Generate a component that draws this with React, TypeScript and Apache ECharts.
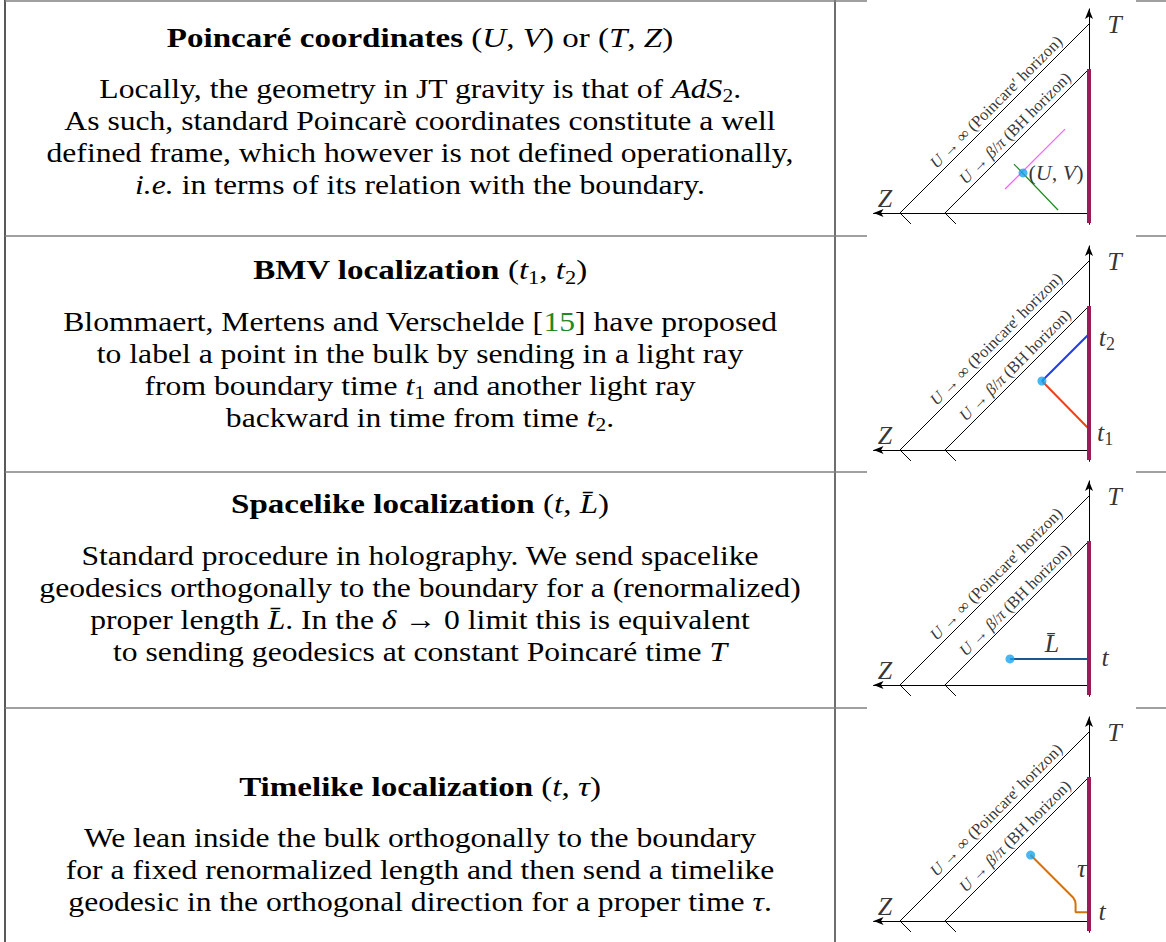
import React, { useEffect, useRef } from 'react';
import * as echarts from 'echarts';

const FONT = 'Liberation Serif';

// ---------- table layout ----------
const ROW_TOPS = [0, 236, 472, 708];
const COL_X = 835;
const LEFT_X = 5;
const TEXT_CX = 420;
const TITLE_SCALE = 1.18;
const BODY_SCALE = 1.13;
const TITLE_Y = [38, 270, 504, 787];
const LINE_Y = [
  [88, 120, 152, 184],
  [321, 353, 385, 417],
  [555, 587, 619, 651],
  [837, 869, 901],
];

// ---------- diagram frame (units of the diagram: Z to the left, T up) ----------
const AXIS_Y = [213, 450, 685, 921];
const ORIGIN_X = 1089;
const UNIT = 189;
const Z_MAX = 1.14;
const T_MAX = 1.08;
const T_MIN = -0.06;

// ---------- diagram data ----------
const poincareHorizon = [[0.942, -0.058], [1, 0], [0, 1]];
const bhHorizon = [[0.704, -0.058], [0.762, 0], [0, 0.762]];
const boundary = [[0, -0.053], [0, 0.762]];

const uvNullA = [[0.444, 0.127], [0.127, 0.444]];
const uvNullB = [[0.397, 0.259], [0.164, 0.016]];
const uvPoint = [0.349, 0.212];

const bmvPoint = [0.249, 0.365];
const bmvRayFromT1 = [[0, 0.111], [0.249, 0.365]];
const bmvRayToT2 = [[0.249, 0.365], [0, 0.614]];

const spacePoint = [0.418, 0.138];
const spaceGeodesic = [[0.418, 0.138], [0, 0.138]];

const timePoint = [0.309, 0.349];
const timeGeodesic = [[0, 0.046], [0.071, 0.046], [0.071, 0.088], [0.073, 0.105], [0.083, 0.123], [0.309, 0.349]];

// label anchors in diagram units
const labelT = [-0.135, 1.0];
const labelZ = [1.08, 0.075];
const labelPoincare = [0.4915, 0.5875];
const labelBH = [0.3915, 0.4495];
const labelT2 = [-0.094, 0.593];
const labelT1 = [-0.085, 0.09];
const labelLbar = [0.196, 0.222];
const labelTSpace = [-0.085, 0.143];
const labelTau = [0.039, 0.279];
const labelTTime = [-0.07, 0.049];

// ---------- texts ----------
type Tok = [string, string];
const titles: Tok[][] = [
  [['b', 'Poincaré coordinates'], ['r', ' ('], ['i', 'U'], ['r', ', '], ['i', 'V'], ['r', ') or ('], ['i', 'T'], ['r', ', '], ['i', 'Z'], ['r', ')']],
  [['b', 'BMV localization'], ['r', ' ('], ['i', 't'], ['s', '1'], ['r', ', '], ['i', 't'], ['s', '2'], ['r', ')']],
  [['b', 'Spacelike localization'], ['r', ' ('], ['i', 't'], ['r', ', '], ['i', 'L\u0304'], ['r', ')']],
  [['b', 'Timelike localization'], ['r', ' ('], ['i', 't'], ['r', ', '], ['i', 'τ'], ['r', ')']],
];
const bodies: Tok[][][] = [
  [
    [['r', 'Locally, the geometry in JT gravity is that of '], ['i', 'AdS'], ['s', '2'], ['r', '.']],
    [['r', 'As such, standard Poincarè coordinates constitute a well']],
    [['r', 'defined frame, which however is not defined operationally,']],
    [['i', 'i.e.'], ['r', ' in terms of its relation with the boundary.']],
  ],
  [
    [['r', 'Blommaert, Mertens and Verschelde ['], ['g', '15'], ['r', '] have proposed']],
    [['r', 'to label a point in the bulk by sending in a light ray']],
    [['r', 'from boundary time '], ['i', 't'], ['s', '1'], ['r', ' and another light ray']],
    [['r', 'backward in time from time '], ['i', 't'], ['s', '2'], ['r', '.']],
  ],
  [
    [['r', 'Standard procedure in holography. We send spacelike']],
    [['r', 'geodesics orthogonally to the boundary for a (renormalized)']],
    [['r', 'proper length '], ['i', 'L\u0304'], ['r', '. In the '], ['i', 'δ'], ['r', ' → 0 limit this is equivalent']],
    [['r', 'to sending geodesics at constant Poincaré time '], ['i', 'T']],
  ],
  [
    [['r', 'We lean inside the bulk orthogonally to the boundary']],
    [['r', 'for a fixed renormalized length and then send a timelike']],
    [['r', 'geodesic in the orthogonal direction for a proper time '], ['i', 'τ'], ['r', '.']],
  ],
];

const toRich = (toks: Tok[]) => toks.map(([k, t]) => `{${k}|${t}}`).join('');

const FS = 28;
const textRich = {
  r: { fontFamily: FONT, fontSize: FS, fill: '#000', lineHeight: 34 },
  i: { fontFamily: FONT, fontSize: FS, fontStyle: 'italic', fill: '#000', lineHeight: 34 },
  b: { fontFamily: FONT, fontSize: FS, fontWeight: 'bold', fill: '#000', lineHeight: 34 },
  s: { fontFamily: FONT, fontSize: 19, fill: '#000', lineHeight: 20, verticalAlign: 'bottom' },
  g: { fontFamily: FONT, fontSize: FS, fill: '#1f8a1f', lineHeight: 34 },
};

const labelRich = {
  i: { fontFamily: FONT, fontStyle: 'italic', fontSize: 26, color: '#000', lineHeight: 30 },
  r: { fontFamily: FONT, fontSize: 26, color: '#000', lineHeight: 30 },
  s: { fontFamily: FONT, fontSize: 18, color: '#000', lineHeight: 18, verticalAlign: 'bottom' },
  ui: { fontFamily: FONT, fontStyle: 'italic', fontSize: 22, color: '#000', lineHeight: 26 },
  ur: { fontFamily: FONT, fontSize: 22, color: '#000', lineHeight: 26 },
  hi: { fontFamily: FONT, fontStyle: 'italic', fontSize: 16.5, color: '#000' },
  hr: { fontFamily: FONT, fontSize: 16.5, color: '#000' },
};

function buildOption() {
  const grid: any[] = [];
  const xAxis: any[] = [];
  const yAxis: any[] = [];
  const series: any[] = [];

  const lineSeries = (i: number, data: number[][], color: string, width: number) => ({
    type: 'line', xAxisIndex: i, yAxisIndex: i, data, symbol: 'none', showSymbol: false,
    lineStyle: { color, width }, clip: false, silent: true, z: 3, animation: false,
  });
  const dotSeries = (i: number, p: number[], label?: any) => ({
    type: 'scatter', xAxisIndex: i, yAxisIndex: i, data: [p], symbolSize: 9,
    itemStyle: { color: '#1ba3ee' }, clip: false, silent: true, z: 6, label,
  });
  const textPoint = (p: number[], formatter: string, rotate = 0) => ({
    value: p,
    label: { show: true, position: 'inside', formatter, rotate, rich: labelRich, color: '#000' },
  });

  AXIS_Y.forEach((a, i) => {
    grid.push({
      left: ORIGIN_X - Z_MAX * UNIT,
      top: a - T_MAX * UNIT,
      width: Z_MAX * UNIT,
      height: (T_MAX - T_MIN) * UNIT,
      containLabel: false,
    });
    const axisCommon = {
      type: 'value', gridIndex: i,
      axisTick: { show: false }, axisLabel: { show: false }, splitLine: { show: false },
    };
    xAxis.push({
      ...axisCommon, min: 0, max: Z_MAX, inverse: true,
      axisLine: { show: true, onZero: true, symbol: ['arrow', 'none'], symbolSize: [6, 10], lineStyle: { color: '#000', width: 1 } },
    });
    yAxis.push({
      ...axisCommon, min: T_MIN, max: T_MAX,
      axisLine: { show: true, onZero: true, symbol: ['none', 'arrow'], symbolSize: [6, 10], lineStyle: { color: '#000', width: 1 } },
    });

    series.push(lineSeries(i, poincareHorizon, '#000', 1));
    series.push(lineSeries(i, bhHorizon, '#000', 1));
    series.push({ ...lineSeries(i, boundary, '#9c1a58', 4), z: 4 });

    const labels: any[] = [
      textPoint(labelT, '{i|T}'),
      textPoint(labelZ, '{i|Z}'),
      textPoint(labelPoincare, '{hi|U}{hr| → ∞ (Poincare′ horizon)}', 45),
      textPoint(labelBH, '{hi|U}{hr| → }{hi|β}{hr|/}{hi|π}{hr| (BH horizon)}', 45),
    ];

    if (i === 0) {
      series.push(lineSeries(i, uvNullA, '#ff5cff', 1.2));
      series.push(lineSeries(i, uvNullB, '#1a8a1a', 1.2));
      series.push(dotSeries(i, uvPoint, {
        show: true, position: 'right', distance: 1,
        formatter: '{ur|(}{ui|U}{ur|, }{ui|V}{ur|)}', rich: labelRich,
      }));
    } else if (i === 1) {
      series.push(lineSeries(i, bmvRayFromT1, '#f0401a', 2));
      series.push(lineSeries(i, bmvRayToT2, '#1f3de8', 2));
      series.push(dotSeries(i, bmvPoint));
      labels.push(textPoint(labelT2, '{i|t}{s|2}'));
      labels.push(textPoint(labelT1, '{i|t}{s|1}'));
    } else if (i === 2) {
      series.push(lineSeries(i, spaceGeodesic, '#1d5590', 2));
      series.push(dotSeries(i, spacePoint));
      labels.push(textPoint(labelLbar, '{i|L\u0304}'));
      labels.push(textPoint(labelTSpace, '{i|t}'));
    } else {
      series.push(lineSeries(i, timeGeodesic, '#d4720e', 2));
      series.push(dotSeries(i, timePoint));
      labels.push(textPoint(labelTau, '{i|τ}'));
      labels.push(textPoint(labelTTime, '{i|t}'));
    }

    series.push({
      type: 'scatter', xAxisIndex: i, yAxisIndex: i, data: labels, symbolSize: 1,
      itemStyle: { color: 'rgba(0,0,0,0)' }, clip: false, silent: true, z: 7,
    });
  });

  // table rules and texts
  const graphic: any[] = [];
  const gray = '#808080';
  graphic.push({ type: 'line', shape: { x1: LEFT_X, y1: 0, x2: LEFT_X, y2: 942 }, style: { stroke: '#222', lineWidth: 1.5 }, z: 10 });
  graphic.push({ type: 'line', shape: { x1: COL_X, y1: 0, x2: COL_X, y2: 942 }, style: { stroke: '#6e6e6e', lineWidth: 2 }, z: 10 });
  ROW_TOPS.forEach((y0) => {
    const y = y0 === 0 ? 1 : y0;
    graphic.push({ type: 'line', shape: { x1: LEFT_X, y1: y, x2: COL_X, y2: y }, style: { stroke: gray, lineWidth: 1.5 }, z: 10 });
    graphic.push({ type: 'line', shape: { x1: COL_X, y1: y, x2: 867, y2: y }, style: { stroke: gray, lineWidth: 1.5 }, z: 10 });
    graphic.push({ type: 'line', shape: { x1: 1136, y1: y, x2: 1166, y2: y }, style: { stroke: gray, lineWidth: 1.5 }, z: 10 });
  });

  titles.forEach((t, r) => {
    graphic.push({
      type: 'text', x: TEXT_CX, y: TITLE_Y[r], scaleX: TITLE_SCALE, z: 10,
      style: { text: toRich(t), rich: textRich, align: 'center', verticalAlign: 'middle', fill: '#000' },
    });
    bodies[r].forEach((line, k) => {
      graphic.push({
        type: 'text', x: TEXT_CX, y: LINE_Y[r][k], scaleX: BODY_SCALE, z: 10,
        style: { text: toRich(line), rich: textRich, align: 'center', verticalAlign: 'middle', fill: '#000' },
      });
    });
  });

  return {
    animation: false,
    backgroundColor: '#ffffff',
    grid, xAxis, yAxis, series, graphic,
  };
}

export default function App() {
  const ref = useRef<HTMLDivElement>(null);
  useEffect(() => {
    document.body.style.margin = '0';
    const chart = echarts.init(ref.current!, null, { renderer: 'svg' });
    chart.setOption(buildOption() as any);
    return () => chart.dispose();
  }, []);
  return <div ref={ref} style={{ width: 1166, height: 942 }} />;
}
